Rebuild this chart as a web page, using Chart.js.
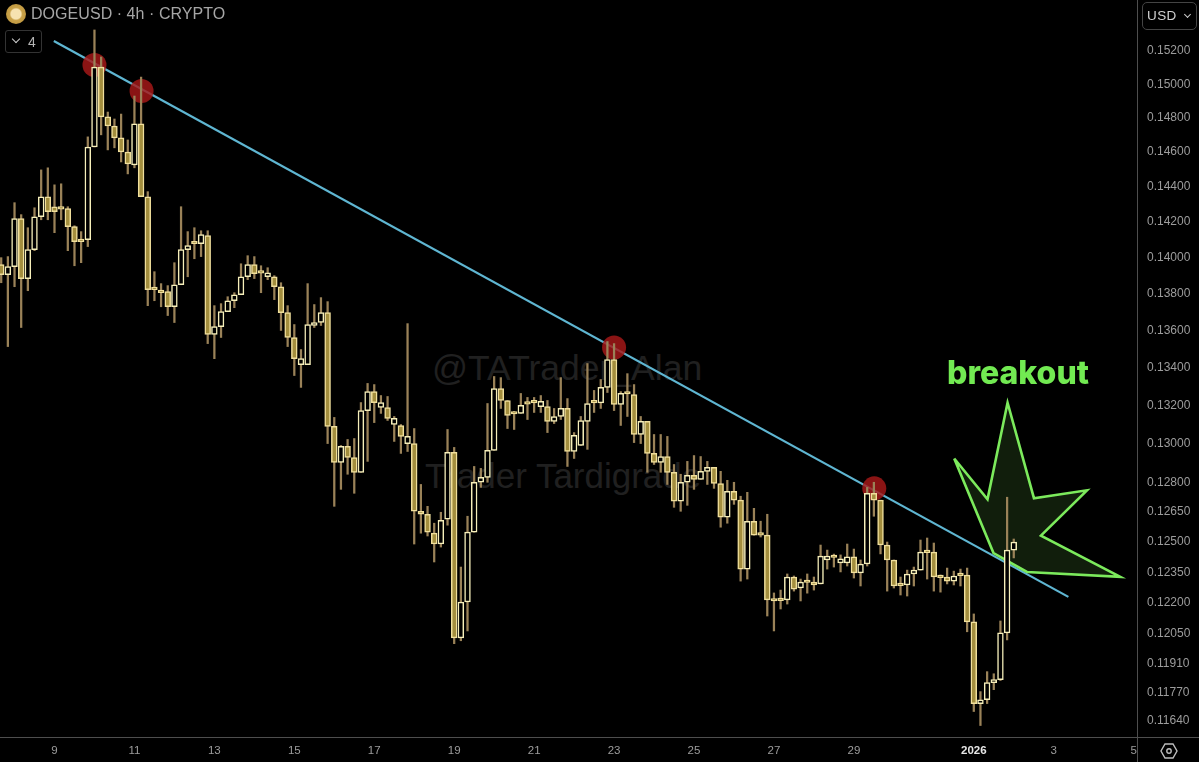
<!DOCTYPE html>
<html>
<head>
<meta charset="utf-8">
<title>DOGEUSD 4h</title>
<script src="https://cdn.jsdelivr.net/npm/chart.js@4"></script>
<style>
  html,body{margin:0;padding:0;background:#000;width:1199px;height:762px;overflow:hidden;font-family:"Liberation Sans",sans-serif}
  #wrap{position:relative;width:1199px;height:762px}
  #chart{position:absolute;left:0;top:0;z-index:2}
  .abs{position:absolute;white-space:nowrap}
  .mark{z-index:1;color:#202020;font-family:"Liberation Sans",sans-serif}
  .top{z-index:3}
  .line{position:absolute;background:#4e4e4e;z-index:3}
  .chev{position:absolute;width:5px;height:5px;border-right:1.4px solid #ccc;border-bottom:1.4px solid #ccc;transform:rotate(45deg)}
</style>
</head>
<body>
<div id="wrap">
  <div class="abs mark" style="left:432px;top:348px;font-size:35.5px">@TATrader_Alan</div>
  <div class="abs mark" style="left:425px;top:456px;font-size:35px">Trader Tardigrade</div>
  <canvas id="chart" width="1199" height="762"></canvas>

  <div class="line" style="left:1137px;top:0;width:1px;height:762px"></div>
  <div class="line" style="left:0;top:737px;width:1199px;height:1px"></div>

  <div class="abs top" style="left:6px;top:4px;width:20px;height:20px;border-radius:50%;background:radial-gradient(circle at 50% 50%,#f6e2b0 0 35%,#c9a24a 45%,#b98f35 100%)"></div>
  <div class="abs top" style="left:31px;top:4px;font-size:16px;line-height:20px;color:#a6a6a6;letter-spacing:.05px">DOGEUSD · 4h · CRYPTO</div>

  <div class="abs top" style="left:5px;top:30px;width:35px;height:21px;border:1px solid #333;border-radius:3px">
    <span class="chev" style="left:7px;top:5px"></span>
    <span class="abs" style="left:22px;top:3px;font-size:14px;line-height:16px;color:#b5b5b5">4</span>
  </div>

  <div class="abs top" style="left:1142px;top:2px;width:53px;height:26px;border:1px solid #444;border-radius:5px">
    <span class="abs" style="left:4px;top:5px;font-size:13.5px;line-height:16px;color:#d0d0d0;letter-spacing:.4px">USD</span>
    <span class="chev" style="left:42px;top:9px;width:4px;height:4px"></span>
  </div>

  <div class="abs top" style="left:947px;top:354px;font-family:Inter,sans-serif;font-weight:800;font-size:32px;line-height:38px;color:#72ea52">breakout</div>

  <svg class="abs top" style="left:1160px;top:742px" width="18" height="18" viewBox="0 0 18 18">
    <polygon points="5,2 13,2 17,9 13,16 5,16 1,9" fill="none" stroke="#bdbdbd" stroke-width="1.4"/>
    <circle cx="9" cy="9" r="2.2" fill="none" stroke="#bdbdbd" stroke-width="1.4"/>
  </svg>
</div>

<script>
// candles, one per 4h, index 0 is the first one on the left
const opens = [.13960,.13905,.13949,.14218,.13883,.14044,.14229,.14343,.14286,.14280,.14275,.14173,.14094,.14100,.14630,.15103,.14806,.14753,.14683,.14601,
  .14526,.14765,.14343,.13828,.13816,.13811,.13728,.13849,.14044,.14083,.14077,.14122,.13577,.13620,.13701,.13761,.13794,.13893,.13960,.13918,
  .13893,.13893,.13838,.13696,.13561,.13415,.13415,.13626,.13642,.13696,.13089,.12903,.12985,.12928,.12852,.13172,.13272,.13188,.13188,.13099,
  .13094,.13000,.13000,.12654,.12639,.12544,.12490,.12614,.12954,.12032,.12205,.12549,.12801,.12826,.12965,.13288,.13225,.13160,.13157,.13212,
  .13217,.13193,.13193,.13115,.13141,.13183,.12959,.12990,.13115,.13217,.13212,.13294,.13442,.13204,.13265,.13256,.13047,.13115,.12949,.12903,
  .12933,.12852,.12705,.12801,.12836,.12816,.12857,.12877,.12795,.12624,.12755,.12710,.12366,.12604,.12539,.12534,.12215,.12218,.12215,.12327,
  .12273,.12305,.12302,.12293,.12411,.12428,.12396,.12396,.12426,.12347,.12391,.12745,.12710,.12485,.12411,.12290,.12288,.12342,.12361,.12453,
  .12450,.12330,.12327,.12307,.12339,.12337,.12109,.11721,.11739,.11819,.11833,.12056,.12460];
const highs = [.13999,.14005,.14309,.14241,.14167,.14280,.14497,.14509,.14411,.14417,.14286,.14178,.14145,.14689,.15328,.15164,.14835,.14794,.14823,.14671,
  .14930,.15043,.14372,.13921,.13855,.13844,.13971,.14286,.14145,.14167,.14150,.14150,.13734,.13745,.13783,.13805,.13965,.14010,.14005,.13954,
  .13943,.13899,.13860,.13734,.13631,.13496,.13855,.13740,.13778,.13756,.13136,.12990,.13021,.13026,.13214,.13315,.13309,.13251,.13246,.13141,
  .13099,.13636,.13078,.12790,.12679,.12594,.12649,.13073,.12980,.12376,.12629,.12882,.12872,.13209,.13352,.13346,.13225,.13168,.13262,.13241,
  .13241,.13251,.13225,.13183,.13346,.13235,.13057,.13141,.13421,.13278,.13336,.13539,.13528,.13272,.13367,.13309,.13141,.13115,.13047,.13047,
  .13037,.12892,.12842,.12908,.12938,.12933,.12908,.12877,.12857,.12811,.12801,.12730,.12750,.12669,.12604,.12639,.12249,.12263,.12342,.12332,
  .12317,.12342,.12327,.12485,.12460,.12440,.12436,.12490,.12465,.12411,.12775,.12801,.12710,.12500,.12411,.12327,.12361,.12376,.12510,.12520,
  .12495,.12337,.12371,.12356,.12366,.12371,.12147,.11777,.11871,.11861,.12113,.12725,.12515];
const lows = [.13860,.13512,.13838,.13615,.13816,.14038,.14212,.14212,.14139,.14212,.14038,.13954,.13971,.14061,.14630,.14701,.14613,.14625,.14543,.14474,
  .14509,.14343,.13734,.13761,.13728,.13680,.13642,.13849,.13893,.13993,.14005,.13528,.13447,.13561,.13701,.13723,.13794,.13877,.13883,.13805,
  .13877,.13767,.13599,.13512,.13357,.13294,.13415,.13615,.13626,.13000,.12679,.12765,.12842,.12745,.12852,.12908,.13109,.13157,.13120,.13011,
  .12949,.12959,.12490,.12544,.12530,.12401,.12475,.12584,.12004,.12018,.12065,.12549,.12775,.12801,.12965,.13183,.13078,.13073,.13157,.13125,
  .13162,.13162,.13057,.13104,.13125,.12882,.12923,.12990,.12970,.13162,.13183,.13267,.13172,.13094,.13141,.13005,.13000,.12852,.12892,.12852,
  .12790,.12674,.12654,.12684,.12765,.12816,.12790,.12770,.12574,.12594,.12689,.12307,.12317,.12534,.12525,.12137,.12065,.12171,.12195,.12258,
  .12210,.12248,.12263,.12293,.12366,.12376,.12352,.12381,.12322,.12283,.12381,.12629,.12441,.12258,.12273,.12239,.12234,.12283,.12361,.12317,
  .12258,.12253,.12293,.12288,.12283,.12061,.11684,.11619,.11721,.11786,.11829,.12022,.12421];
const closes = [.13905,.13949,.14218,.13883,.14044,.14229,.14343,.14258,.14258,.14272,.14173,.14089,.14089,.14630,.15103,.14806,.14753,.14683,.14601,.14532,
  .14765,.14343,.13822,.13822,.13805,.13728,.13849,.14044,.14066,.14077,.14128,.13577,.13620,.13701,.13761,.13794,.13893,.13960,.13910,.13913,
  .13915,.13838,.13696,.13561,.13447,.13447,.13631,.13642,.13696,.13089,.12903,.12985,.12928,.12852,.13172,.13272,.13214,.13214,.13131,.13131,
  .13037,.13037,.12654,.12639,.12549,.12490,.12609,.12954,.12032,.12205,.12549,.12801,.12826,.12965,.13288,.13225,.13146,.13154,.13199,.13206,
  .13212,.13220,.13115,.13141,.13183,.12959,.13042,.13120,.13209,.13212,.13294,.13442,.13204,.13262,.13259,.13047,.13115,.12949,.12903,.12933,
  .12852,.12705,.12801,.12836,.12816,.12857,.12877,.12795,.12624,.12755,.12710,.12366,.12604,.12534,.12534,.12215,.12210,.12212,.12327,.12268,
  .12302,.12300,.12288,.12430,.12430,.12423,.12416,.12426,.12347,.12391,.12745,.12710,.12485,.12411,.12283,.12285,.12342,.12361,.12450,.12447,
  .12327,.12324,.12307,.12332,.12334,.12109,.11721,.11739,.11819,.11833,.12056,.12460,.12500];

const yTicks = [.152,.15,.148,.146,.144,.142,.14,.138,.136,.134,.132,.13,.128,.1265,.125,.1235,.122,.1205,.1191,.1177,.1164];
const xTickIdx = [8,20,32,44,56,68,80,92,104,116,128,146,158,170];
const xTickLabels = ['9','11','13','15','17','19','21','23','25','27','29','2026','3','5'];

// annotations drawn on the price chart
const trendIdx = [7.9,160.2];
const trendPrice = [.15261,.12230];
const touchIdx = [14,21.07,92,131.06];
const touchPrice = [.15115,.14960,.13507,.12770];
const starIdx = [143.06,148.06,151.07,155.03,162.99,156.08,167.99,153.98,148.96,143.06];
const starPrice = [.12923,.12715,.13213,.12720,.12760,.12532,.12328,.12352,.12445,.12923];

const isDown = i => closes[i] < opens[i];
const pairs = (xs,ys) => xs.map((x,i)=>({x,y:ys[i]}));
const isYear = c => c.tick && c.tick.value===146;

new Chart(document.getElementById('chart'),{
  type:'bar',
  data:{ datasets:[
    { type:'line', data:pairs(trendIdx,trendPrice), borderColor:'#5fb6d2', borderWidth:2.2, pointRadius:0, order:6 },
    { type:'line', data:pairs(starIdx,starPrice), borderColor:'#7cea5c', borderWidth:2.6, pointRadius:0, tension:0,
      fill:'shape', backgroundColor:'rgba(70,125,50,.24)', order:5 },
    { type:'scatter', data:pairs(touchIdx,touchPrice), backgroundColor:'rgba(168,24,24,.82)', borderWidth:0, pointRadius:12, order:4 },
    { data:highs.map((h,i)=>({x:i,y:[lows[i],h]})), backgroundColor:'#9a8258', barThickness:1.6, grouped:false, order:3 },
    { data:opens.map((o,i)=>({x:i,y:[o,closes[i]]})),
      backgroundColor:c=>isDown(c.dataIndex)?'#a38e3e':'#000',
      borderColor:c=>isDown(c.dataIndex)?'#f0dF9c':'#f6efba',
      borderWidth:1.5, borderSkipped:false, barThickness:5.8, minBarLength:2.5, grouped:false, order:2 }
  ]},
  options:{
    responsive:false, animation:false, events:[],
    layout:{ padding:0, autoPadding:false },
    plugins:{ legend:{display:false}, tooltip:{enabled:false} },
    scales:{
      x:{ type:'linear', offset:false, min:-0.18, max:170.5,
        grid:{display:false, drawTicks:false, offset:false}, border:{display:false},
        afterBuildTicks:s=>{ s.ticks = xTickIdx.map(v=>({value:v})); },
        afterFit:s=>{ s.height = 25; s.paddingLeft = 0; s.paddingRight = 0; },
        ticks:{ autoSkip:false, maxRotation:0, padding:7, color:c=>isYear(c)?'#e6e6e6':'#9c9c9c',
          font:c=>({family:'"Liberation Sans"',size:11.5,weight:isYear(c)?'bold':'normal'}),
          callback:v=>xTickLabels[xTickIdx.indexOf(v)] } },
      y:{ type:'logarithmic', position:'right', min:.11566, max:.15512, bounds:'data',
        grid:{display:false, drawTicks:false}, border:{display:false},
        afterBuildTicks:s=>{ s.ticks = yTicks.map(v=>({value:v})); },
        afterFit:s=>{ s.width = 62; s.paddingTop = 0; s.paddingBottom = 0; },
        ticks:{ autoSkip:false, padding:10, crossAlign:'near', color:'#9c9c9c',
          font:{family:'"Liberation Sans"',size:12}, callback:v=>v.toFixed(5) } }
    }
  }
});
</script>
</body>
</html>
